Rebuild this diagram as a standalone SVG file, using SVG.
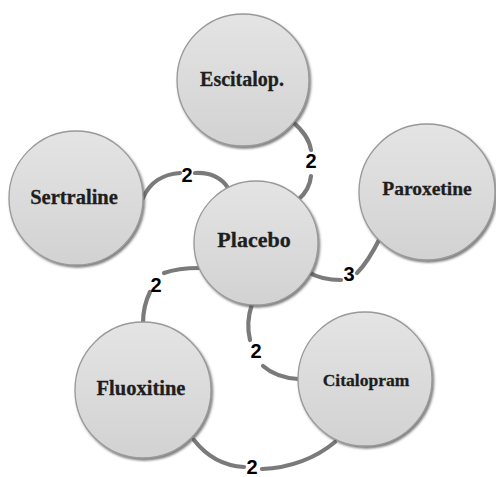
<svg xmlns="http://www.w3.org/2000/svg" width="496" height="477" viewBox="0 0 496 477">
<defs>
<linearGradient id="g" x1="0" y1="0" x2="0" y2="1">
<stop offset="0" stop-color="#e4e4e4"/>
<stop offset="1" stop-color="#d2d2d2"/>
</linearGradient>
<filter id="sh" x="-20%" y="-20%" width="140%" height="140%">
<feDropShadow dx="1.5" dy="2" stdDeviation="0.8" flood-color="#444" flood-opacity="0.7"/>
</filter>
</defs>
<style>
.node circle{fill:url(#g);stroke:#999;stroke-width:1.3;filter:url(#sh)}
.node text{font-family:"Liberation Serif","Times New Roman",serif;font-weight:bold;fill:#1e1e1e;stroke:#1e1e1e;stroke-width:0.3;text-anchor:middle}
.edge{fill:none;stroke:#7a7a7a;stroke-width:4.2;stroke-linecap:round}
.lbl{font-family:"Liberation Sans",Arial,sans-serif;font-weight:bold;font-size:20px;fill:#000;text-anchor:middle}
</style>
<rect width="496" height="477" fill="#fff"/>
<g id="connectors">
<path class="edge" d="M143,198 C150,182 164,174 180,173"/>
<path class="edge" d="M195,173 C210,172 222,178 228,188"/>
<path class="edge" d="M293,122 C302,130 309,138 311,150"/>
<path class="edge" d="M311,176 C310,186 305,194 298,200"/>
<path class="edge" d="M308,272 C318,278 330,280 341,280"/>
<path class="edge" d="M357,273 C366,264 374,250 380,238"/>
<path class="edge" d="M200,268 C185,268 172,270 164,273"/>
<path class="edge" d="M150,292 C145,302 143,312 143,323"/>
<path class="edge" d="M252,304 C248,316 247,328 250,340"/>
<path class="edge" d="M263,366 C272,374 284,378 298,379"/>
<path class="edge" d="M194,440 C208,458 226,466 244,467"/>
<path class="edge" d="M262,469 C290,468 316,458 335,442"/>
<text class="lbl" x="187" y="182">2</text>
<text class="lbl" x="311" y="168">2</text>
<text class="lbl" x="349" y="281">3</text>
<text class="lbl" x="156" y="292">2</text>
<text class="lbl" x="256" y="358">2</text>
<text class="lbl" x="252" y="474">2</text>
</g>
<g id="escitalop" class="node"><circle cx="243" cy="80" r="66"/><text x="242" y="86" font-size="20">Escitalop.</text></g>
<g id="sertraline" class="node"><circle cx="76" cy="198" r="67"/><text x="74" y="204" font-size="20.5">Sertraline</text></g>
<g id="placebo" class="node"><circle cx="256" cy="243" r="62"/><text x="254" y="247" font-size="22">Placebo</text></g>
<g id="paroxetine" class="node"><circle cx="427" cy="192" r="68"/><text x="427" y="195" font-size="19.5">Paroxetine</text></g>
<g id="fluoxitine" class="node"><circle cx="143" cy="390" r="68"/><text x="141" y="395" font-size="20.5">Fluoxitine</text></g>
<g id="citalopram" class="node"><circle cx="365" cy="379" r="67"/><text x="366" y="386" font-size="17.5">Citalopram</text></g>
</svg>
